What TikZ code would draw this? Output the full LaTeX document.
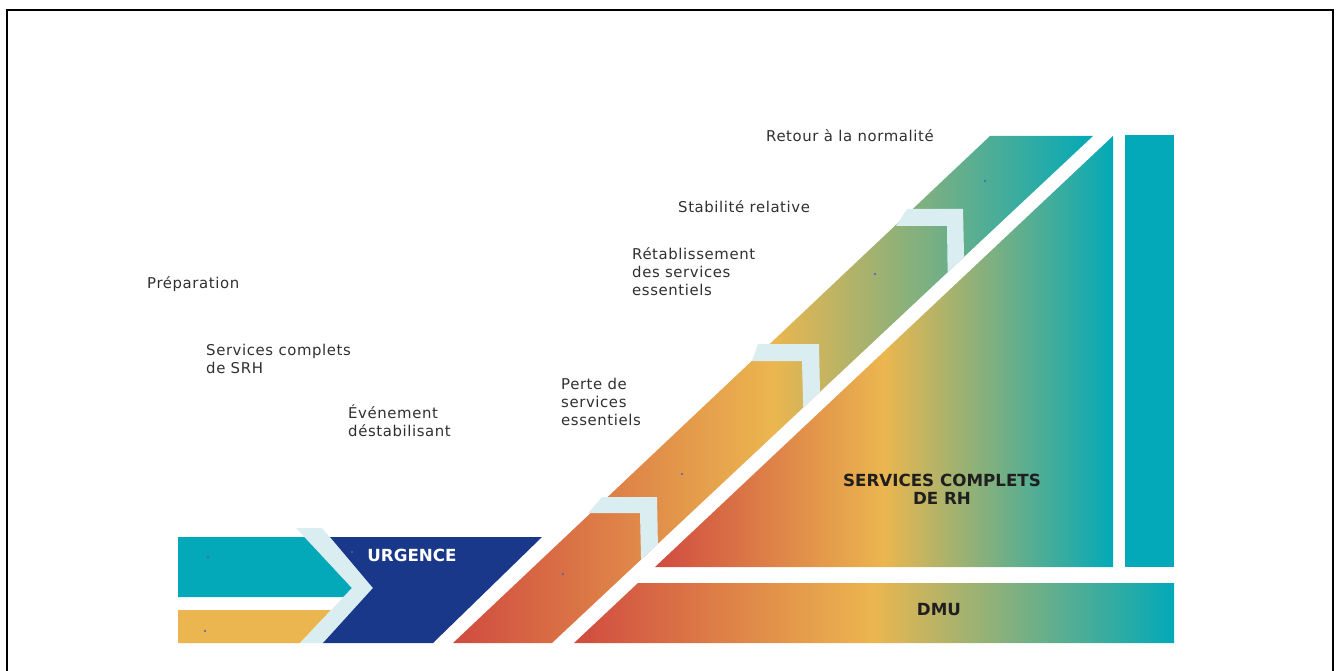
\documentclass[tikz,border=0pt]{standalone}
\usepackage{fontspec}
\newfontfamily\lab[LetterSpace=4]{DejaVu Sans}
\newfontfamily\labb{DejaVu Sans}
\definecolor{cred}{HTML}{D04B40}
\definecolor{cyel}{HTML}{EBB64F}
\definecolor{cteal}{HTML}{03A9B8}
\definecolor{cnavy}{HTML}{19388A}
\definecolor{cpale}{HTML}{DAEEF2}
\definecolor{ctxt}{HTML}{303030}
\definecolor{cdot}{HTML}{4F5CC0}
\tikzset{
  grad/.style={left color=cred, right color=cteal, middle color=cyel, draw=none},
  label/.style={anchor=base west, inner sep=0pt, align=left, text=ctxt,
    font=\lab\fontsize{14.9}{18}\selectfont},
  title/.style={anchor=base, inner sep=0pt, align=center, text=#1,
    font=\labb\bfseries\fontsize{16.7}{18}\selectfont},
  dot/.style={circle, fill=cdot, inner sep=0pt, minimum size=2.4pt}
}
\begin{document}
\begin{tikzpicture}[x=1pt, y=-1pt]
\useasboundingbox (0,0) rectangle (1339,671);
% frame
\draw[line width=2pt] (7,672) -- (7,10) -- (1333,10) -- (1333,672);

% entry bars and URGENCE block
\fill[cteal] (178,537) -- (305,537) -- (352,588) -- (343.5,597) -- (178,597) -- cycle;
\fill[cyel] (178,610) -- (331,610) -- (300,643) -- (178,643) -- cycle;
\fill[cpale] (296,528) -- (322,528) -- (373,588) -- (323,643) -- (300,643) -- (352,588) -- cycle;
\fill[cnavy] (330,537) -- (542,537) -- (433,643) -- (323,643) -- (373,588) -- cycle;

% rising band
\path[grad] (453,643) -- (990,136) -- (1093,136) -- (552,643) -- cycle;
% full services triangle, DMU bar and side bar
\path[grad] (655,567) -- (1113,136) -- (1113,567) -- cycle;
\path[grad] (574,643) -- (638,583) -- (1174,583) -- (1174,643) -- cycle;
\fill[cteal] (1125,135) rectangle (1174,567);

% step markers along the band
\begin{scope}
  \clip (0,643) -- (552,643) -- (1093,136) -- (1093,0) -- (0,0) -- cycle;
  \fill[cpale] (602,497) -- (657,497) -- (659,600) -- (642,600) -- (640,513) -- (588,513) -- cycle;
  \fill[cpale] (758,344) -- (819,344) -- (821,440) -- (804,440) -- (802,361) -- (752,361) -- cycle;
  \fill[cpale] (907,209) -- (963,209) -- (965,300) -- (948,300) -- (947,226) -- (896,226) -- cycle;
\end{scope}

% anchor dots
\foreach \p in {(208,557),(205,631),(352,552),(563,574),(682,474),(875,274),(985,181)}
  \node[dot] at \p {};

% labels (base anchor sits on the last line of each text)
\node[label] (prep) at (147,288) {Préparation};
\node[label] (srh) at (206,373) {Services complets\\de SRH};
\node[label] (evt) at (348,436) {Événement\\déstabilisant};
\node[label] (perte) at (561,425) {Perte de\\services\\essentiels};
\node[label] (retab) at (632,295) {Rétablissement\\des services\\essentiels};
\node[label] (stab) at (678,213) {Stabilité relative};
\node[label] (retour) at (766,142) {Retour à la normalité};

\node[title=white] (urg) at (412,561) {URGENCE};
\node[title=black!88] (rh) at (942,504) {SERVICES COMPLETS\\DE RH};
\node[title=black!88] (dmu) at (939,615) {DMU};
\end{tikzpicture}
\end{document}
